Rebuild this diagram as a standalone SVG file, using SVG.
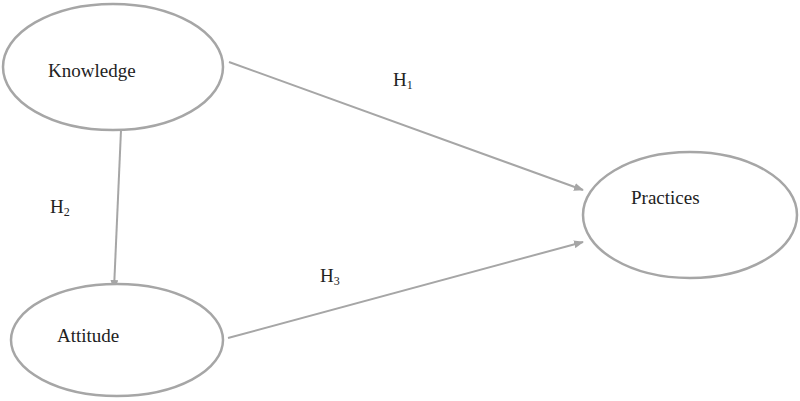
<svg xmlns="http://www.w3.org/2000/svg" width="800" height="401" viewBox="0 0 800 401">
<style>
.n{fill:#fff;stroke:#a6a6a6;stroke-width:2.5}
.t{font-family:"Liberation Serif",serif;font-size:19px;fill:#222}
.s{font-family:"Liberation Serif",serif;font-size:12px;fill:#222}
.c{stroke:#a6a6a6;stroke-width:2;fill:none;marker-end:url(#a)}
</style>
<defs><marker id="a" markerWidth="10" markerHeight="8" refX="9" refY="4" orient="auto" markerUnits="userSpaceOnUse"><path d="M0,0L10,4L0,8z" fill="#a6a6a6"/></marker></defs>
<rect width="800" height="401" fill="#fff"/>
<g id="connectors">
<path class="c" d="M229,62L583,190"/>
<path class="c" d="M121,130L114,289"/>
<path class="c" d="M228,338L583,242"/>
</g>
<g id="knowledge"><ellipse class="n" cx="113" cy="67" rx="110" ry="63"/><text class="t" x="48" y="77">Knowledge</text></g>
<g id="attitude"><ellipse class="n" cx="117" cy="340" rx="106" ry="56"/><text class="t" x="57" y="342">Attitude</text></g>
<g id="practices"><ellipse class="n" cx="690" cy="215" rx="107" ry="63"/><text class="t" x="631" y="204">Practices</text></g>
<text class="t" x="393" y="86">H<tspan class="s" dy="3">1</tspan></text>
<text class="t" x="50" y="213">H<tspan class="s" dy="3">2</tspan></text>
<text class="t" x="320" y="282">H<tspan class="s" dy="3">3</tspan></text>
</svg>
